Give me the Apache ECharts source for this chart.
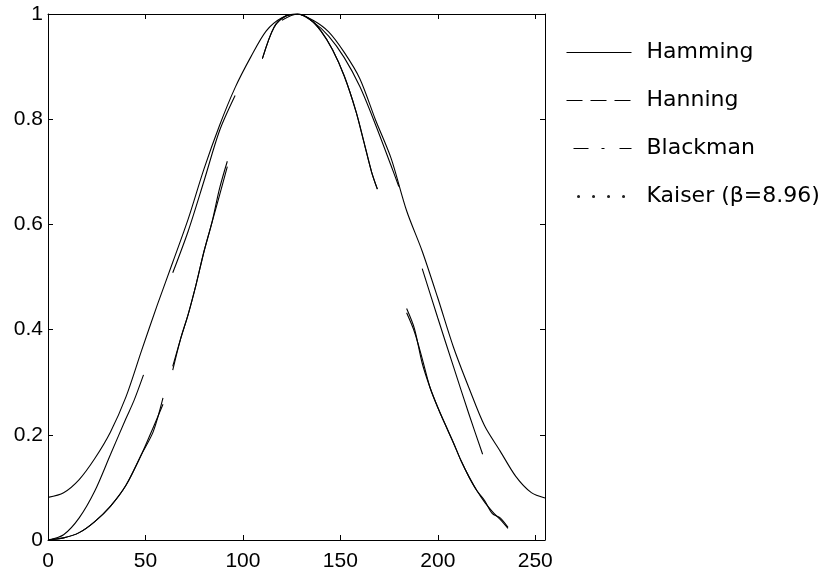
<!DOCTYPE html>
<html>
<head>
<meta charset="utf-8">
<title>Window functions</title>
<script src="https://cdn.jsdelivr.net/npm/echarts@6/dist/echarts.min.js"></script>
<style>
  html, body { margin: 0; padding: 0; background: #ffffff; }
  #chart { width: 839px; height: 574px; }
</style>
</head>
<body>
<div id="chart"></div>
<script>
// Sample index n and window weight w(n); null marks a break in the trace
const seriesNames = ['Hamming', 'Hanning', 'Blackman', 'Kaiser (\u03b2=8.96)'];

const hamming = [
  [0, 0.081], [8, 0.090], [16, 0.115], [24, 0.155], [32, 0.205], [40, 0.272],
  [48, 0.360], [56, 0.446], [64, 0.528], [72, 0.611], [80, 0.705], [88, 0.788],
  [96, 0.860], [104, 0.918], [112, 0.968], [120, 0.993], [128, 1.0], [136, 0.988],
  [144, 0.966], [152, 0.927], [160, 0.877], [168, 0.799], [176, 0.726], [184, 0.626],
  [192, 0.549], [200, 0.460], [208, 0.367], [216, 0.289], [224, 0.217], [232, 0.169],
  [240, 0.121], [248, 0.090], [255, 0.080]
];

const hanning = [
  [0, 0.0], [8, 0.010], [16, 0.042], [24, 0.093], [32, 0.162], [40, 0.231],
  [44, 0.264], [49, 0.314], [56, null], [64, 0.508], [72, 0.588], [80, 0.682],
  [88, 0.778], [96, 0.845], [100, null], [120, 0.988], [128, 1.0], [136, 0.985],
  [144, 0.958], [152, 0.917], [160, 0.862], [168, 0.790], [176, 0.712], [180, 0.672],
  [186, null], [192, 0.516], [200, 0.422], [208, 0.330], [216, 0.239], [223, 0.163]
];

const blackman = [
  [0, 0.0], [8, 0.004], [16, 0.014], [24, 0.035], [32, 0.064], [40, 0.104],
  [48, 0.163], [54, 0.206], [59, 0.270], [61, null], [64, 0.323], [68, 0.382],
  [72, 0.430], [76, 0.486], [80, 0.548], [84, 0.602], [88, 0.655], [92, 0.710],
  [100, null], [110, 0.915], [116, 0.975], [122, 0.996], [128, 1.0], [134, 0.991],
  [140, 0.968], [146, 0.932], [152, 0.882], [158, 0.815], [162, 0.758], [166, 0.700],
  [169, 0.667], [176, null], [184, 0.432], [188, 0.396], [192, 0.345], [196, 0.290],
  [200, 0.252], [204, 0.218], [208, 0.185], [212, 0.150], [216, 0.120], [220, 0.094],
  [224, 0.072], [228, 0.054], [232, 0.039], [236, 0.022]
];

const kaiser = [
  [0, 0.0], [8, 0.004], [16, 0.014], [24, 0.035], [32, 0.064], [40, 0.104],
  [48, 0.163], [54, 0.214], [59, 0.258], [61, null], [64, 0.330], [68, 0.382],
  [72, 0.430], [76, 0.486], [80, 0.548], [84, 0.602], [88, 0.668], [92, 0.720],
  [100, null], [110, 0.915], [116, 0.975], [122, 0.996], [128, 1.0], [134, 0.991],
  [140, 0.968], [146, 0.932], [152, 0.882], [158, 0.815], [162, 0.758], [166, 0.700],
  [169, 0.667], [176, null], [184, 0.440], [188, 0.402], [192, 0.336], [196, 0.290],
  [200, 0.252], [204, 0.218], [208, 0.185], [212, 0.150], [216, 0.120], [220, 0.094],
  [224, 0.075], [228, 0.050], [232, 0.042], [236, 0.024]
];

const xTicks = { min: 0, max: 255, interval: 50 };
const yTicks = { min: 0, max: 1, interval: 0.2 };

// Dash patterns (and pattern offsets) used by the key
const keyDashes = ['solid', [16, 8], [15, 13, 3, 15], [0.1, 14.9]];
const keyDashOffsets = [0, 0, 39, 3];

const tickFont = { fontFamily: '"Liberation Sans", Arial, sans-serif', fontSize: 21, color: '#000' };
const black = '#000000';

const chart = echarts.init(document.getElementById('chart'), null, { renderer: 'canvas' });

function lineSeries(name, data) {
  return {
    name: name,
    type: 'line',
    data: data,
    symbol: 'none',
    smooth: 0.3,
    connectNulls: false,
    xAxisIndex: 0,
    yAxisIndex: 0,
    lineStyle: { color: black, width: 1.1, type: 'solid' },
    itemStyle: { color: black },
    emphasis: { disabled: true },
    animation: false
  };
}

function frameAxis() {
  return {
    axisLine: { show: true, onZero: false, lineStyle: { color: black, width: 1 } },
    axisTick: { show: true, inside: true, length: 5, lineStyle: { color: black, width: 1 } },
    splitLine: { show: false }
  };
}

chart.setOption({
  backgroundColor: '#ffffff',
  animation: false,
  grid: { left: 48, right: 294, top: 14, bottom: 34, containLabel: false },
  xAxis: [
    Object.assign({
      type: 'value', position: 'bottom',
      min: xTicks.min, max: xTicks.max, interval: xTicks.interval,
      axisLabel: Object.assign({ margin: 11, showMaxLabel: false }, tickFont)
    }, frameAxis()),
    Object.assign({
      type: 'value', position: 'top',
      min: xTicks.min, max: xTicks.max, interval: xTicks.interval,
      axisLabel: { show: false }
    }, frameAxis())
  ],
  yAxis: [
    Object.assign({
      type: 'value', position: 'left',
      min: yTicks.min, max: yTicks.max, interval: yTicks.interval,
      axisLabel: Object.assign({ margin: 5 }, tickFont)
    }, frameAxis()),
    Object.assign({
      type: 'value', position: 'right',
      min: yTicks.min, max: yTicks.max, interval: yTicks.interval,
      axisLabel: { show: false }
    }, frameAxis())
  ],
  legend: {
    orient: 'vertical',
    left: 565,
    top: 41,
    padding: 0,
    itemWidth: 65,
    itemHeight: 13,
    itemGap: 25,
    selectedMode: false,
    textStyle: {
      fontFamily: '"DejaVu Sans", sans-serif',
      fontSize: 22,
      lineHeight: 23,
      color: black,
      padding: [0, 0, 0, 10]
    },
    data: seriesNames.map(function (name, i) {
      return {
        name: name,
        itemStyle: { color: 'rgba(0,0,0,0)', borderColor: 'rgba(0,0,0,0)', borderWidth: 0, opacity: 0 },
        lineStyle: {
          color: i === 3 ? '#222222' : black,
          width: i === 3 ? 3 : 1,
          type: keyDashes[i],
          dashOffset: keyDashOffsets[i],
          cap: i === 3 ? 'round' : 'butt'
        }
      };
    })
  },
  series: [
    lineSeries(seriesNames[0], hamming),
    lineSeries(seriesNames[1], hanning),
    lineSeries(seriesNames[2], blackman),
    lineSeries(seriesNames[3], kaiser)
  ]
});
</script>
</body>
</html>
